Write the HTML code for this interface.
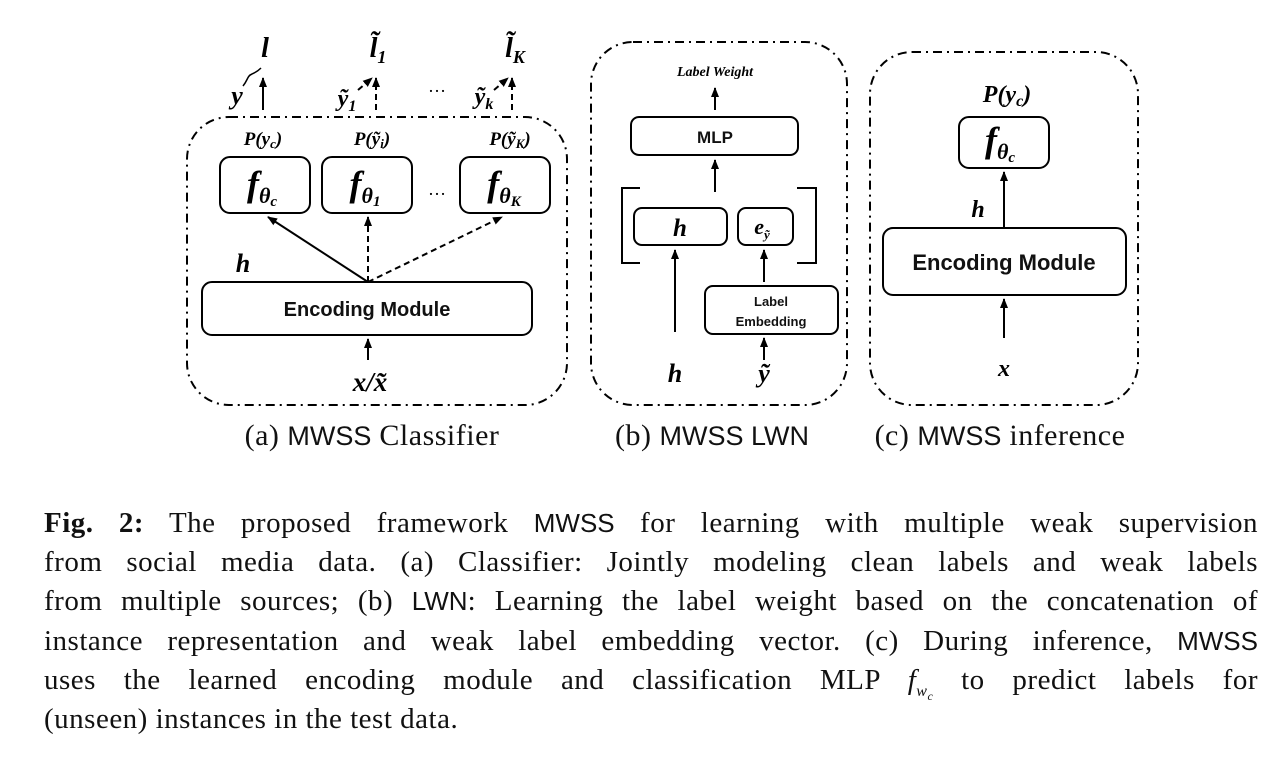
<!DOCTYPE html>
<html><head><meta charset="utf-8">
<style>
body{margin:0;background:#fff;width:1286px;height:770px;overflow:hidden;position:relative;font-family:"Liberation Serif",serif}
svg{position:absolute;left:0;top:0}
.cap{position:absolute;left:44px;width:1214px;top:504px;font-size:29px;letter-spacing:0.5px;line-height:39.2px;color:#111}
.cap div{text-align:justify;text-align-last:justify;white-space:nowrap;height:39.2px}
.cap div.last{text-align-last:left}
.sf{font-family:"Liberation Sans",sans-serif;font-size:26px;letter-spacing:0}
sub{line-height:0}
</style></head><body>
<svg width="1286" height="500" viewBox="0 0 1286 500">
<defs>
<marker id="a" viewBox="0 0 10 10" refX="9" refY="5" markerWidth="5" markerHeight="5" orient="auto"><path d="M0,1 L10,5 L0,9 z" fill="#000"/></marker>
</defs>
<g fill="none" stroke="#000" stroke-width="2" stroke-dasharray="9,5,2,5">
<rect x="187" y="117" width="380" height="288" rx="42"/>
<rect x="591" y="42" width="256" height="363" rx="42"/>
<rect x="870" y="52" width="268" height="353" rx="42"/>
</g>
<g fill="none" stroke="#000" stroke-width="2">
<rect x="220" y="157" width="90" height="56" rx="10"/>
<rect x="322" y="157" width="90" height="56" rx="10"/>
<rect x="460" y="157" width="90" height="56" rx="10"/>
<rect x="202" y="282" width="330" height="53" rx="10"/>
<rect x="631" y="117" width="167" height="38" rx="8"/>
<rect x="634" y="208" width="93" height="37" rx="8"/>
<rect x="738" y="208" width="55" height="37" rx="8"/>
<rect x="705" y="286" width="133" height="48" rx="8"/>
<rect x="959" y="117" width="90" height="51" rx="10"/>
<rect x="883" y="228" width="243" height="67" rx="10"/>
<path d="M640,188 H622 V263 H640 M797,188 H816 V263 H797"/>
<path d="M243,86 C248,80 247,76 252,74 C256,72 257,72 261,68" stroke-width="1.5"/>
</g>
<g stroke="#000" stroke-width="2" marker-end="url(#a)">
<line x1="263" y1="110" x2="263" y2="78"/>
<line x1="368" y1="282" x2="268" y2="217"/>
<line x1="368" y1="360" x2="368" y2="339"/>
<line x1="715" y1="110" x2="715" y2="88"/>
<line x1="715" y1="192" x2="715" y2="160"/>
<line x1="675" y1="332" x2="675" y2="250"/>
<line x1="764" y1="282" x2="764" y2="250"/>
<line x1="764" y1="360" x2="764" y2="338"/>
<line x1="1004" y1="228" x2="1004" y2="172"/>
<line x1="1004" y1="338" x2="1004" y2="299"/>
</g>
<g stroke="#000" stroke-width="2" stroke-dasharray="6,4" marker-end="url(#a)">
<line x1="376" y1="110" x2="376" y2="78"/>
<line x1="512" y1="110" x2="512" y2="78"/>
<line x1="368" y1="282" x2="368" y2="217"/>
<line x1="368" y1="282" x2="502" y2="217"/>
<line x1="358" y1="90" x2="372" y2="78"/>
<line x1="494" y1="90" x2="508" y2="78"/>
</g>
<g font-family="Liberation Serif,serif" font-weight="bold" font-style="italic" text-anchor="middle" fill="#000">
<text x="265" y="57" font-size="28">l</text>
<text x="378" y="57" font-size="28">l̃<tspan font-size="18" dy="6">1</tspan></text>
<text x="515" y="57" font-size="28">l̃<tspan font-size="18" dy="6">K</tspan></text>
<text x="237" y="104" font-size="26">y</text>
<text x="347" y="106" font-size="24">ỹ<tspan font-size="16" dy="5">1</tspan></text>
<text x="484" y="104" font-size="24">ỹ<tspan font-size="16" dy="5">k</tspan></text>
<text x="437" y="92" font-size="18" font-style="normal" font-weight="normal">…</text>
<text x="437" y="195" font-size="18" font-style="normal" font-weight="normal">…</text>
<text x="263" y="145" font-size="19">P(y<tspan font-size="13" dy="3">c</tspan><tspan dy="-3">)</tspan></text>
<text x="372" y="145" font-size="19">P(ỹ<tspan font-size="13" dy="3">i</tspan><tspan dy="-3">)</tspan></text>
<text x="510" y="145" font-size="19">P(ỹ<tspan font-size="13" dy="3">K</tspan><tspan dy="-3">)</tspan></text>
<text x="262" y="196" font-size="36">f<tspan font-size="22" dy="7">θ<tspan font-size="15" dy="3">c</tspan></tspan></text>
<text x="365" y="196" font-size="36">f<tspan font-size="22" dy="7">θ<tspan font-size="15" dy="3">1</tspan></tspan></text>
<text x="504" y="196" font-size="36">f<tspan font-size="22" dy="7">θ<tspan font-size="15" dy="3">K</tspan></tspan></text>
<text x="243" y="272" font-size="26">h</text>
<text x="370" y="391" font-size="27">x/x̃</text>
<text x="715" y="76" font-size="14">Label Weight</text>
<text x="680" y="236" font-size="25">h</text>
<text x="762" y="234" font-size="22">e<tspan font-size="13" dy="5">ỹ</tspan></text>
<text x="675" y="382" font-size="26">h</text>
<text x="764" y="382" font-size="26">ỹ</text>
<text x="1007" y="102" font-size="24">P(y<tspan font-size="16" dy="4">c</tspan><tspan dy="-4">)</tspan></text>
<text x="1000" y="152" font-size="36">f<tspan font-size="22" dy="7">θ<tspan font-size="15" dy="3">c</tspan></tspan></text>
<text x="978" y="217" font-size="24">h</text>
<text x="1004" y="376" font-size="24">x</text>
</g>
<g font-family="Liberation Sans,sans-serif" font-weight="bold" text-anchor="middle" fill="#111">
<text x="367" y="316" font-size="20">Encoding Module</text>
<text x="715" y="143" font-size="17">MLP</text>
<text x="771" y="306" font-size="13">Label</text>
<text x="771" y="326" font-size="13">Embedding</text>
<text x="1004" y="270" font-size="22">Encoding Module</text>
</g>
<g font-family="Liberation Serif,serif" font-size="30" text-anchor="middle" fill="#111" letter-spacing="0.5">
<text x="372" y="445">(a) <tspan font-family="Liberation Sans,sans-serif" font-size="27" letter-spacing="0">MWSS</tspan> Classifier</text>
<text x="712" y="445">(b) <tspan font-family="Liberation Sans,sans-serif" font-size="27" letter-spacing="0">MWSS LWN</tspan></text>
<text x="1000" y="445">(c) <tspan font-family="Liberation Sans,sans-serif" font-size="27" letter-spacing="0">MWSS</tspan> inference</text>
</g>
</svg>
<div class="cap">
<div><b>Fig. 2:</b> The proposed framework <span class="sf">MWSS</span> for learning with multiple weak supervision</div>
<div>from social media data. (a) Classifier: Jointly modeling clean labels and weak labels</div>
<div>from multiple sources; (b) <span class="sf">LWN</span>: Learning the label weight based on the concatenation of</div>
<div>instance representation and weak label embedding vector. (c) During inference, <span class="sf">MWSS</span></div>
<div>uses the learned encoding module and classification MLP <i>f<sub style="font-size:16px">w<sub style="font-size:12px">c</sub></sub></i> to predict labels for</div>
<div class="last">(unseen) instances in the test data.</div>
</div>
</body></html>
